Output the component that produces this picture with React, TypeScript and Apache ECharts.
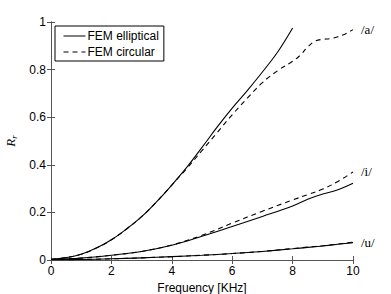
import React, { useEffect, useRef } from "react";
import * as echarts from "echarts";

const freqA = [0, 0.5, 1, 1.5, 2, 2.5, 3, 3.5, 4, 4.5, 5, 5.5, 6, 6.5, 7, 7.5, 8];
const aEllip = [0.003, 0.01, 0.024, 0.05, 0.085, 0.13, 0.182, 0.245, 0.315, 0.39, 0.473, 0.558, 0.638, 0.712, 0.79, 0.873, 0.975];

const freqAc = [0, 0.5, 1, 1.5, 2, 2.5, 3, 3.5, 4, 4.5, 5, 5.5, 6, 6.5, 7, 7.5, 8, 8.25, 8.5, 8.75, 9, 9.25, 9.5, 9.75, 10];
const aCirc = [0.003, 0.01, 0.024, 0.05, 0.085, 0.13, 0.182, 0.245, 0.315, 0.385, 0.46, 0.535, 0.61, 0.68, 0.745, 0.795, 0.835, 0.86, 0.895, 0.92, 0.927, 0.93, 0.938, 0.95, 0.968];

const freq = [0, 1, 2, 3, 4, 5, 6, 7, 8, 8.5, 9, 9.5, 10];
const iEllip = [0.002, 0.008, 0.02, 0.036, 0.062, 0.1, 0.141, 0.183, 0.227, 0.255, 0.277, 0.295, 0.322];
const iCirc = [0.002, 0.008, 0.02, 0.036, 0.063, 0.104, 0.155, 0.205, 0.252, 0.275, 0.298, 0.33, 0.37];
const uEllip = [0.001, 0.002, 0.005, 0.009, 0.014, 0.02, 0.027, 0.036, 0.047, 0.053, 0.059, 0.066, 0.073];
const uCirc = [0.001, 0.002, 0.005, 0.009, 0.014, 0.02, 0.027, 0.036, 0.048, 0.054, 0.06, 0.067, 0.075];

const xTicks = [0, 2, 4, 6, 8, 10];
const yTicks = [0, 0.2, 0.4, 0.6, 0.8, 1];

const zip = (xs: number[], ys: number[]) => xs.map((x, i) => [x, ys[i]]);

export default function App() {
  const ref = useRef<HTMLDivElement>(null);
  useEffect(() => {
    const chart = echarts.init(ref.current!, null, { renderer: "svg" });
    const axisColor = "#555";
    const solid = (name: string, data: number[][]) => ({
      type: "line",
      name,
      data,
      symbol: "circle",
      showSymbol: false,
      smooth: 0.4,
      lineStyle: { color: "#000", width: 1.1, type: "solid" },
      itemStyle: { color: "#000" },
    });
    const dashed = (name: string, data: number[][], label: string) => ({
      type: "line",
      name,
      data,
      symbol: "circle",
      showSymbol: false,
      smooth: 0.4,
      lineStyle: { color: "#000", width: 1.1, type: [5, 4] },
      itemStyle: { color: "#000" },
      endLabel: {
        show: true,
        formatter: label,
        distance: 8,
        fontFamily: "Liberation Serif",
        fontSize: 13,
        color: "#000",
      },
    });
    const baseX = {
      type: "value",
      min: 0,
      max: 10,
      interval: 2,
      axisLine: { show: true, lineStyle: { color: axisColor, width: 1 } },
      axisTick: { show: true, inside: true, length: 4, lineStyle: { color: axisColor } },
      splitLine: { show: false },
    };
    const baseY = {
      type: "value",
      min: 0,
      max: 1,
      interval: 0.2,
      axisLine: { show: true, lineStyle: { color: axisColor, width: 1 } },
      axisTick: { show: true, inside: true, length: 4, lineStyle: { color: axisColor } },
      splitLine: { show: false },
    };
    chart.setOption({
      animation: false,
      backgroundColor: "#fff",
      grid: { left: 51, right: 38, top: 22, bottom: 34, containLabel: false, outerBoundsMode: "none" },
      legend: {
        data: [
          { name: "FEM elliptical", itemStyle: { opacity: 0 } },
          { name: "FEM circular", itemStyle: { opacity: 0 } },
        ],
        orient: "vertical",
        left: 55,
        top: 26,
        itemWidth: 22,
        itemHeight: 10,
        itemGap: 4,
        padding: [4, 5, 3, 8],
        borderColor: "#000",
        borderWidth: 1,
        backgroundColor: "#fff",
        borderRadius: 0,
        lineStyle: { width: 1 },
        textStyle: { fontFamily: "Liberation Sans", fontSize: 12, color: "#000", padding: [0, 0, 0, -3] },
      },
      xAxis: [
        {
          ...baseX,
          position: "bottom",
          name: "Frequency [KHz]",
          nameLocation: "middle",
          nameGap: 20,
          nameTextStyle: { fontFamily: "Liberation Sans", fontSize: 12, color: "#000" },
          axisLabel: {
            fontFamily: "Liberation Sans",
            fontSize: 12,
            color: "#000",
            margin: 5,
            formatter: (v: number) => (xTicks.includes(v) ? String(v) : ""),
          },
        },
        { ...baseX, position: "top", axisLabel: { show: false } },
      ],
      yAxis: [
        {
          ...baseY,
          position: "left",
          name: "{i|R}{s|r}",
          nameLocation: "middle",
          nameGap: 32,
          nameTextStyle: {
            rich: {
              i: { fontFamily: "Liberation Serif", fontStyle: "italic", fontSize: 13, color: "#000" },
              s: { fontFamily: "Liberation Serif", fontStyle: "italic", fontSize: 9, color: "#000", verticalAlign: "bottom", padding: [6, 0, 0, 0] },
            },
          },
          axisLabel: {
            fontFamily: "Liberation Sans",
            fontSize: 12,
            color: "#000",
            margin: 5,
            formatter: (v: number) => {
              const t = yTicks.find((y) => Math.abs(y - v) < 1e-6);
              return t === undefined ? "" : String(t);
            },
          },
        },
        { ...baseY, position: "right", axisLabel: { show: false } },
      ],
      series: [
        solid("FEM elliptical", zip(freqA, aEllip)),
        dashed("FEM circular", zip(freqAc, aCirc), "/a/"),
        solid("FEM elliptical", zip(freq, iEllip)),
        dashed("FEM circular", zip(freq, iCirc), "/i/"),
        solid("FEM elliptical", zip(freq, uEllip)),
        dashed("FEM circular", zip(freq, uCirc), "/u/"),
      ],
    });
    return () => chart.dispose();
  }, []);
  return (
    <div
      ref={ref}
      style={{ position: "fixed", left: 0, top: 0, width: 391, height: 294 }}
    />
  );
}
